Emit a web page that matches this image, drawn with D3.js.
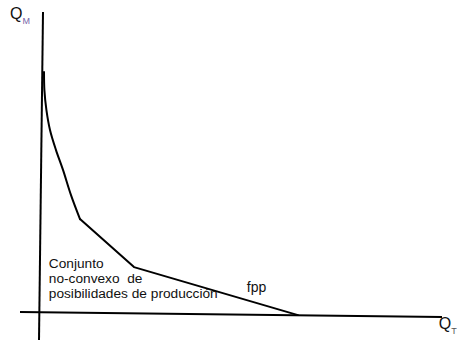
<!DOCTYPE html>
<html>
<head>
<meta charset="utf-8">
<script src="https://cdn.jsdelivr.net/npm/d3@7"></script>
<style>
  body { margin: 0; background: #fff; }
  text { font-family: "Liberation Sans", Arial, sans-serif; white-space: pre; }
</style>
</head>
<body>
<figure id="fpp" style="margin:0"></figure>
<script>
// frontier (quantity T, quantity M): a smooth convex arc, then two straight pieces
const arcT = [1, 1.1, 1.6, 2.5, 4, 5.75, 7.75, 10];
const arcM = [80.3, 74.3, 67.7, 61, 54.3, 47.7, 39.3, 31.3];
const segT = [10, 23.5, 64.5];
const segM = [31.3, 15.3, -0.7];

// hand drawn axes, slightly off square
const axisYT = [0.75, -0.25];
const axisYM = [100.3, -9];
const axisXT = [-5, 100.5];
const axisXM = [0.3, -1.3];

const setLines = ["Conjunto", "no-convexo  de", "posibilidades de producción"];
const curveLabel = "fpp";

const width = 462, height = 347;

const svg = d3.select("figure#fpp")
              .append("svg")
              .attr("width", width)
              .attr("height", height);

const x = d3.scaleLinear().domain([0, 100]).range([40, 440]);
const y = d3.scaleLinear().domain([0, 100]).range([313, 13]);

const line = d3.line()
               .x(d => x(d[0]))
               .y(d => y(d[1]));
const smooth = d3.line()
                 .x(d => x(d[0]))
                 .y(d => y(d[1]))
                 .curve(d3.curveCatmullRom.alpha(0.5));

// axes
svg.append("path")
   .attr("d", line(d3.zip(axisYT, axisYM)))
   .attr("fill", "none")
   .attr("stroke", "#000")
   .attr("stroke-width", 2);

svg.append("path")
   .attr("d", line(d3.zip(axisXT, axisXM)))
   .attr("fill", "none")
   .attr("stroke", "#000")
   .attr("stroke-width", 2);

// production possibility frontier
svg.append("path")
   .attr("d", smooth(d3.zip(arcT, arcM)))
   .attr("fill", "none")
   .attr("stroke", "#000")
   .attr("stroke-width", 2)
   .attr("stroke-linecap", "round");

svg.append("path")
   .attr("d", line(d3.zip(segT, segM)))
   .attr("fill", "none")
   .attr("stroke", "#000")
   .attr("stroke-width", 2)
   .attr("stroke-linejoin", "round")
   .attr("stroke-linecap", "round");

// axis titles
const qm = svg.append("text")
              .attr("x", x(-7.5))
              .attr("y", y(98))
              .attr("font-size", 16)
              .attr("fill", "#111");
qm.append("tspan").text("Q");
qm.append("tspan").attr("dy", 5).attr("font-size", 9).attr("fill", "#7565a8").text("M");

const qt = svg.append("text")
              .attr("x", x(99.7))
              .attr("y", y(-5.3))
              .attr("font-size", 16)
              .attr("fill", "#111");
qt.append("tspan").text("Q");
qt.append("tspan").attr("dy", 5).attr("font-size", 9).attr("fill", "#555").text("T");

// labels
svg.append("g")
   .selectAll("text")
   .data(setLines)
   .join("text")
   .attr("x", x(2.2))
   .attr("y", (d, i) => y(15) + i * 15)
   .attr("font-size", 13.7)
   .attr("fill", "#111")
   .text(d => d);

svg.append("text")
   .attr("x", x(51.7))
   .attr("y", y(7))
   .attr("font-size", 14)
   .attr("fill", "#111")
   .text(curveLabel);
</script>
</body>
</html>
